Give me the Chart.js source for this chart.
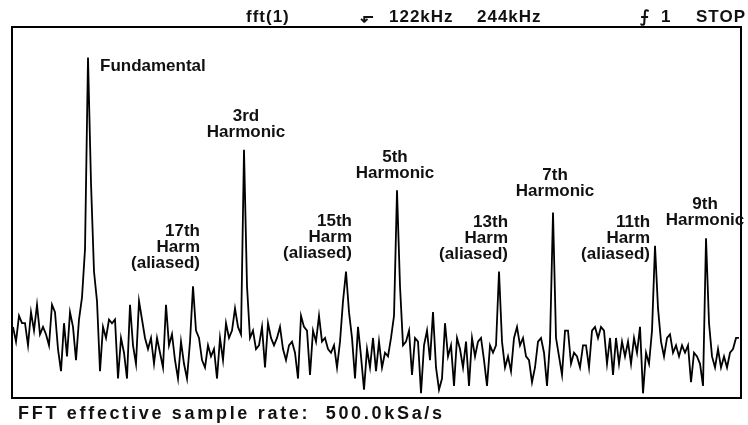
<!DOCTYPE html>
<html>
<head>
<meta charset="utf-8">
<script src="https://cdn.jsdelivr.net/npm/chart.js@4"></script>
<style>
  html, body { margin: 0; padding: 0; background: #fff; }
</style>
</head>
<body>
<canvas id="fftChart" width="748" height="425"></canvas>
<script>
// FFT bin width (kHz) and span shown on screen
const binKHz = 1.0069;
const spanKHz = 244;

// spectrum level per bin (0 = bottom of screen, 100 = top)
const levels = [
  19, 15, 22, 20, 20, 14, 23, 18, 25, 17, 19, 17, 14, 25, 23, 13, 7, 20, 11, 23,
  19, 10, 21, 27, 40, 92, 58, 34, 26, 7, 19, 16, 21, 20, 21, 5, 16, 12, 5, 25,
  14, 9, 26, 21, 16, 13, 16, 9, 16, 12, 8, 25, 14, 17, 10, 5, 15, 9, 5, 15,
  30, 18, 16, 10, 8, 14, 11, 13, 5, 16, 10, 20, 16, 18, 24, 19, 17, 67, 30, 16,
  18, 13, 14, 19, 8, 20, 16, 14, 16, 19, 13, 10, 14, 15, 12, 5, 22, 19, 18, 6,
  18, 15, 22, 15, 16, 13, 12, 14, 8, 15, 26, 34, 23, 16, 5, 19, 11, 2, 13, 8,
  16, 7, 15, 8, 12, 11, 16, 22, 56, 30, 14, 15, 18, 6, 16, 15, 1, 14, 18, 10,
  23, 8, 2, 5, 20, 11, 14, 3, 16, 13, 8, 15, 3, 16, 11, 15, 16, 10, 3, 14,
  12, 14, 34, 15, 8, 11, 7, 16, 19, 14, 16, 11, 10, 4, 8, 15, 16, 12, 3, 15,
  50, 16, 11, 6, 18, 18, 9, 12, 11, 8, 14, 14, 8, 18, 19, 16, 19, 18, 9, 16,
  6, 16, 9, 15, 11, 15, 9, 16, 12, 19, 1, 12, 9, 18, 41, 24, 15, 11, 16, 17,
  12, 14, 11, 14, 12, 14, 4, 12, 11, 9, 3, 43, 20, 11, 8, 13, 8, 11, 8, 12,
  13, 16, 16
];

// bins of the labelled peaks and their captions
const peakBins = [25, 77, 128, 180, 231, 60, 111, 162, 214];
const peakLabels = [
  ['Fundamental'],
  ['3rd', 'Harmonic'],
  ['5th', 'Harmonic'],
  ['7th', 'Harmonic'],
  ['9th', 'Harmonic'],
  ['17th', 'Harm', '(aliased)'],
  ['15th', 'Harm', '(aliased)'],
  ['13th', 'Harm', '(aliased)'],
  ['11th', 'Harm', '(aliased)']
];

// screen status texts
const headerTexts = ['fft(1)', '\u2B10', '122kHz', '244kHz', '\u2A0D', '1', 'STOP'];
const footerText = 'FFT effective sample rate:  500.0kSa/s';

// where the captions sit relative to their peak (pixels)
const labelPlace = [
  { align: 'left', dx: 12, dy: 9 },
  { align: 'center', dx: 2, dy: -33 },
  { align: 'center', dx: -2, dy: -33 },
  { align: 'center', dx: 2, dy: -37 },
  { align: 'center', dx: -1, dy: -34 },
  { align: 'right', dx: 7, dy: -55 },
  { align: 'right', dx: 6, dy: -50 },
  { align: 'right', dx: 9, dy: -49 },
  { align: 'right', dx: -5, dy: -23 }
];
const headerX = [246, 360, 389, 477, 640, 661, 696];

const screenText = {
  id: 'screenText',
  afterDraw(chart) {
    const { ctx, chartArea: a, scales: { x, y } } = chart;
    ctx.save();
    // screen frame
    ctx.strokeStyle = '#000';
    ctx.lineWidth = 2;
    ctx.strokeRect(a.left - 1, a.top - 1, a.right - a.left + 2, a.bottom - a.top + 2);

    ctx.fillStyle = '#111';
    ctx.font = 'bold 17px "Liberation Sans", Arial, sans-serif';
    ctx.textBaseline = 'middle';
    peakLabels.forEach((lines, k) => {
      const p = labelPlace[k];
      const b = peakBins[k];
      const px = x.getPixelForValue(b * binKHz) + p.dx;
      const py = y.getPixelForValue(levels[b]) + p.dy;
      ctx.textAlign = p.align;
      lines.forEach((t, j) => ctx.fillText(t, px, py + j * 16));
    });

    // status line on top
    ctx.textAlign = 'left';
    ctx.textBaseline = 'alphabetic';
    ctx.font = 'bold 17px "Liberation Sans", "DejaVu Sans", sans-serif';
    ctx.letterSpacing = '1px';
    headerTexts.forEach((t, k) => ctx.fillText(t, headerX[k], 22));

    // footer
    ctx.font = 'bold 18px "Liberation Sans", Arial, sans-serif';
    ctx.letterSpacing = '2.7px';
    ctx.fillText(footerText, 18, 419);
    ctx.restore();
  }
};

new Chart(document.getElementById('fftChart'), {
  type: 'line',
  data: {
    datasets: [{
      label: 'fft(1)',
      data: levels.map((v, i) => ({ x: i * binKHz, y: v })),
      borderColor: '#000',
      borderWidth: 1.8,
      pointRadius: 0,
      tension: 0,
      fill: false
    }]
  },
  options: {
    responsive: false,
    animation: false,
    layout: { padding: { left: 13, right: 8, top: 28, bottom: 28 } },
    plugins: { legend: { display: false }, tooltip: { enabled: false } },
    scales: {
      x: { type: 'linear', min: 0, max: spanKHz, display: false },
      y: { min: 0, max: 100, display: false }
    }
  },
  plugins: [screenText]
});
</script>
</body>
</html>
